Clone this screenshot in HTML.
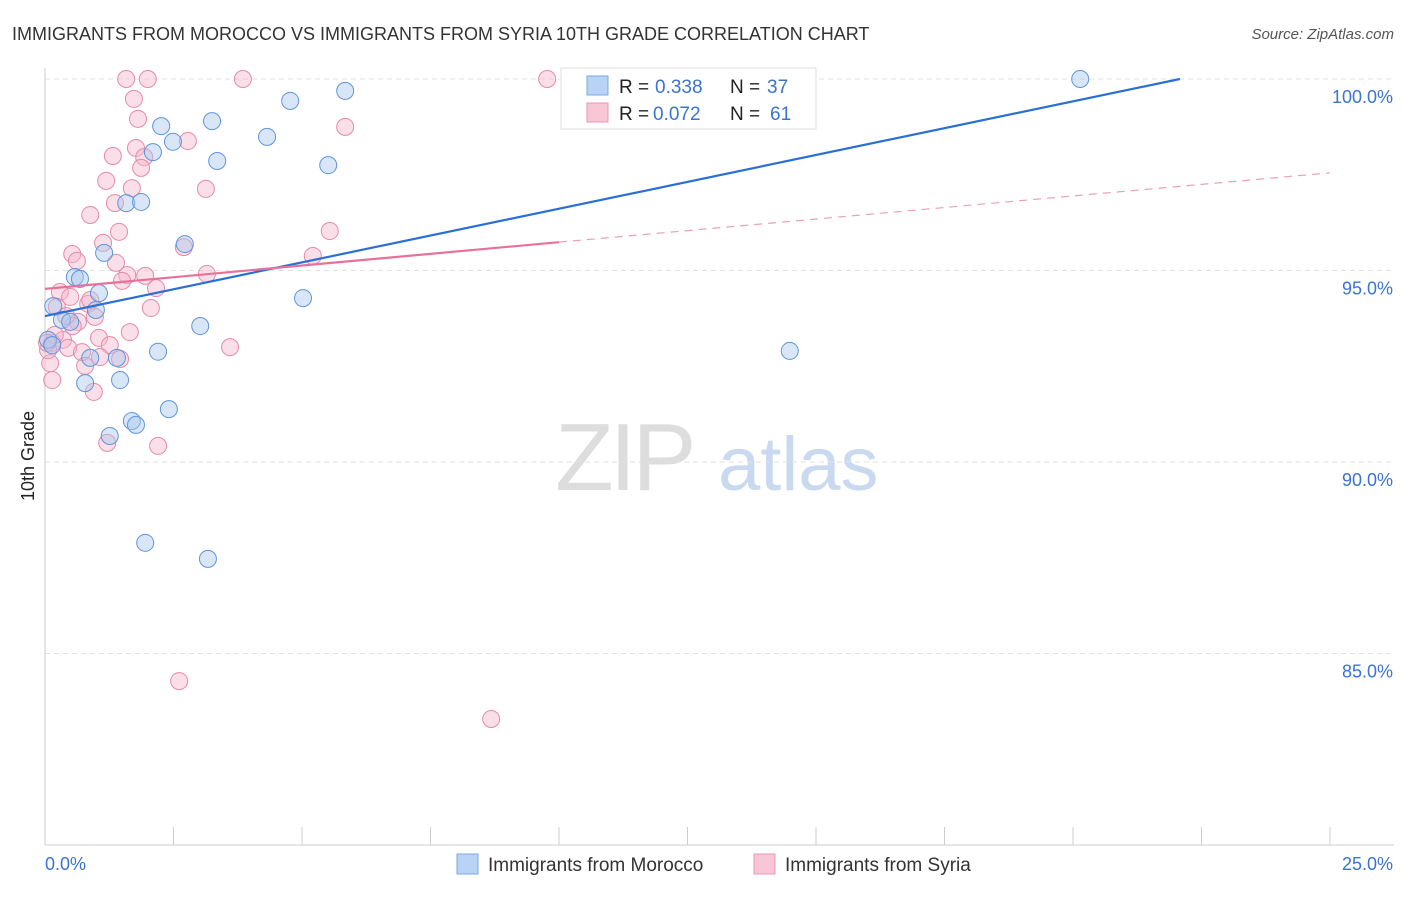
<!DOCTYPE html>
<html><head><meta charset="utf-8"><style>
body{margin:0;background:#fff;font-family:"Liberation Sans",sans-serif}
svg text{font-family:"Liberation Sans",sans-serif}
</style></head><body>
<svg id="c" width="1406" height="892" xmlns="http://www.w3.org/2000/svg">
<text x="12" y="40" font-size="18" fill="#333">IMMIGRANTS FROM MOROCCO VS IMMIGRANTS FROM SYRIA 10TH GRADE CORRELATION CHART</text>
<text x="1394" y="39" font-size="15" fill="#555" text-anchor="end" font-style="italic">Source: ZipAtlas.com</text>
<text x="34" y="456" font-size="18" fill="#222" text-anchor="middle" transform="rotate(-90 34 456)">10th Grade</text>
<g><text x="555" y="490" font-size="96" fill="#ddd" font-family="Liberation Serif" letter-spacing="-4">ZIP</text><text x="718" y="490" font-size="76" fill="#c9daf0">atlas</text></g>
<g id="grid"></g><g id="pts"></g><g id="lines"></g>
<g>
<rect x="561" y="68" width="255" height="61" fill="#fff" stroke="#ddd"/>
<rect x="587" y="76" width="21" height="19" fill="#b8d3f5" stroke="#7aa8e4"/>
<rect x="587" y="103" width="21" height="19" fill="#f9c6d6" stroke="#e897b2"/>
<text y="93" font-size="19"><tspan x="619" fill="#222">R = </tspan><tspan x="655" fill="#3a74d0">0.338</tspan><tspan x="730" fill="#222">N = </tspan><tspan x="767" fill="#3a74d0">37</tspan></text>
<text y="120" font-size="19"><tspan x="619" fill="#222">R = </tspan><tspan x="653" fill="#3a74d0">0.072</tspan><tspan x="730" fill="#222">N = </tspan><tspan x="770" fill="#3a74d0">61</tspan></text>
</g>
<g>
<rect x="457" y="854" width="21" height="20" fill="#b8d3f5" stroke="#7aa8e4"/>
<text x="488" y="871" font-size="19" fill="#333">Immigrants from Morocco</text>
<rect x="754" y="854" width="21" height="20" fill="#f9c6d6" stroke="#e897b2"/>
<text x="785" y="871" font-size="19" fill="#333">Immigrants from Syria</text>
</g>
</svg>
<script>
const xTickLabels=["0.0%","25.0%"];
const yTicks=[100,95,90,85];
const moroccoX=[20.14,5.84,4.77,3.25,2.26,2.49,4.32,2.10,3.35,5.51,1.58,1.87,2.72,1.15,0.58,0.68,1.05,5.02,0.16,0.33,0.49,3.02,0.99,2.20,0.88,1.40,1.46,0.78,2.41,1.69,1.77,1.26,1.95,3.17,14.49,0.06,0.14];
const moroccoY=[100,99.69,99.43,98.90,98.77,98.36,98.49,98.09,97.86,97.75,96.76,96.79,95.69,95.46,94.83,94.78,94.41,94.28,94.07,93.71,93.66,93.55,93.97,92.88,92.72,92.72,92.14,92.06,91.38,91.07,90.97,90.68,87.89,87.47,92.90,93.19,93.05];
const syriaX=[1.58,2.00,3.85,9.77,1.73,1.81,5.84,2.78,1.32,1.77,1.93,1.87,1.19,1.69,3.13,1.36,0.88,1.44,5.54,1.13,2.70,0.53,0.62,5.21,1.38,1.60,1.95,3.15,1.50,2.16,0.29,0.49,0.84,2.06,0.23,0.97,0.64,0.54,1.65,1.05,0.35,1.26,0.45,0.14,0.72,1.07,1.46,0.78,0.10,0.14,0.95,3.60,1.21,2.20,2.61,8.68,0.06,0.19,0.41,0.88,0.04];
const syriaY=[100,100,100,100,99.48,98.96,98.75,98.38,97.99,98.20,97.96,97.68,97.34,97.15,97.13,96.76,96.45,96.01,96.03,95.72,95.61,95.43,95.25,95.38,95.20,94.88,94.86,94.91,94.73,94.54,94.44,94.31,94.13,94.02,94.05,93.79,93.66,93.55,93.39,93.24,93.19,93.05,92.98,93.11,92.87,92.74,92.69,92.51,92.58,92.14,91.83,93.00,90.50,90.42,84.28,83.29,92.92,93.32,93.81,94.23,93.11];
const moroccoTrend=[[0,93.81],[22.08,100]];
const syriaTrendSolid=[[0,94.52],[10,95.74]];
const syriaTrendDashed=[[10,95.74],[25,97.55]];
const NS="http://www.w3.org/2000/svg";
const X=v=>45+v*51.4, Y=v=>79+(100-v)*38.3;
function mk(t,a,p){const e=document.createElementNS(NS,t);for(const k in a)e.setAttribute(k,a[k]);p.appendChild(e);return e;}
const grid=document.getElementById('grid');
yTicks.forEach(t=>{
 const l=mk('line',{x1:45,x2:1394,y1:Y(t),y2:Y(t),stroke:'#e2e2e2','stroke-dasharray':'5,4'},grid);
 
 
 const tx=mk('text',{x:1393,y:Y(t)+24,'font-size':18,fill:'#3a74d0','text-anchor':'end'},grid);
 tx.textContent=t.toFixed(1)+'%';
 
 
});
const ax=mk('line',{x1:45,x2:45,y1:68,y2:845,stroke:'#ccc'},grid);


const bx=mk('line',{x1:45,x2:1394,y1:845,y2:845,stroke:'#ccc'},grid);


for(let i=0;i<=10;i++){const t=mk('line',{x1:X(i*2.5),x2:X(i*2.5),y1:827,y2:845,stroke:'#ccc'},grid);
 
 }
[[0,'start',45],[25,'end',1393]].forEach((d,i)=>{const t=mk('text',{x:d[2],y:870,'font-size':18,fill:'#3a74d0','text-anchor':d[1]},grid);t.textContent=xTickLabels[i];
 
 });
const pts=document.getElementById('pts');
function series(xs,ys,f,s,n){xs.forEach((x,i)=>{const c=mk('circle',{cx:X(x),cy:Y(ys[i]),r:8.5,fill:f,'fill-opacity':0.45,stroke:s,'stroke-width':1},pts);
 
 });}
series(syriaX,syriaY,'#f5b8cb','#e68aa8','point-syria');
series(moroccoX,moroccoY,'#a8c8f0','#5f95dc','point-morocco');
const lines=document.getElementById('lines');
function ln(p,st,w,d,n){const l=mk('line',{x1:X(p[0][0]),y1:Y(p[0][1]),x2:X(p[1][0]),y2:Y(p[1][1]),stroke:st,'stroke-width':w},lines);if(d)l.setAttribute('stroke-dasharray',d);
 
 }
ln(moroccoTrend,'#2a6fd6',2.2,null,'trendline-morocco');
ln(syriaTrendSolid,'#e8709a',2.2,null,'trendline-syria');
ln(syriaTrendDashed,'#eaa0ba',1.2,'8,6','trendline-syria-extrapolated');
</script>
</body></html>
